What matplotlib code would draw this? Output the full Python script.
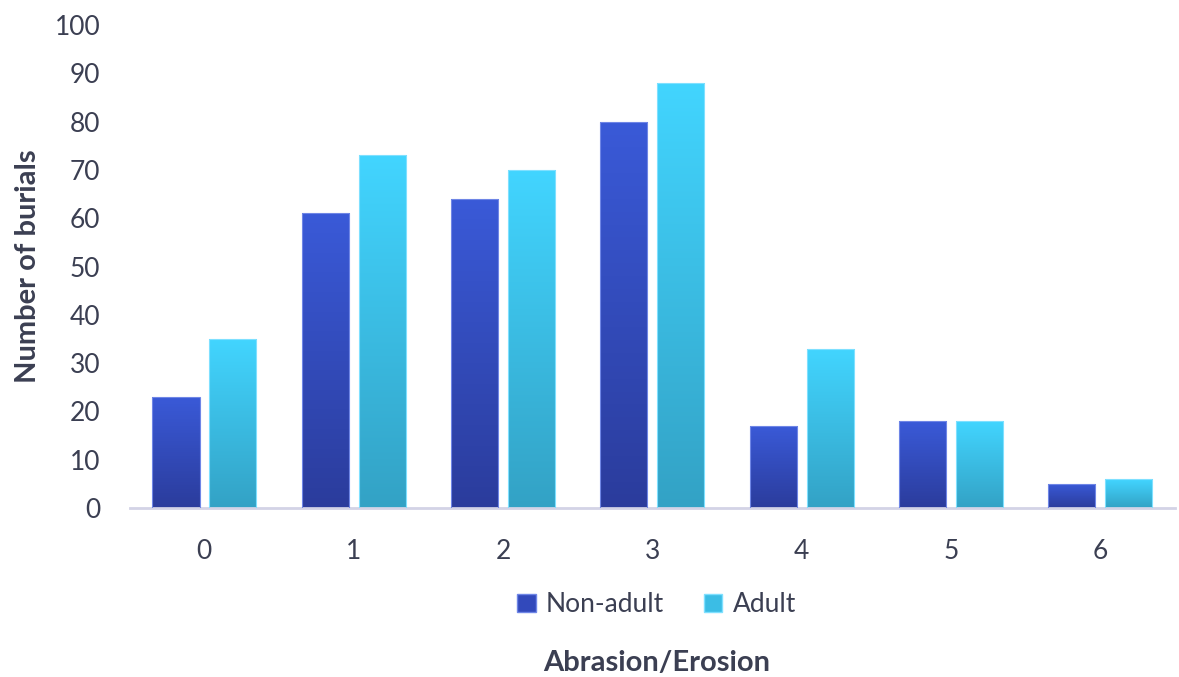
import matplotlib
matplotlib.use("Agg")
import matplotlib.pyplot as plt
import numpy as np
from matplotlib.colors import LinearSegmentedColormap
from matplotlib.patches import Patch

categories = ["0", "1", "2", "3", "4", "5", "6"]
non_adult = [23, 61, 64, 80, 17, 18, 5]
adult = [35, 73, 70, 88, 33, 18, 6]
series_names = ["Non-adult", "Adult"]
yticks = [0, 10, 20, 30, 40, 50, 60, 70, 80, 90, 100]

plt.rcParams['font.family'] = ['Lato', 'DejaVu Sans']
text_col = "#3b3f52"

fig = plt.figure(figsize=(11.79, 6.77), dpi=100)
ax = fig.add_axes([0.110, 0.2496, 0.8866, 0.7134])

x = np.arange(len(categories))
w = 0.315
off = 0.19

na_cmap = LinearSegmentedColormap.from_list("na", ["#2b3c9c", "#3a5ad8"])
ad_cmap = LinearSegmentedColormap.from_list("ad", ["#33a2c5", "#42d5ff"])

def grad_bars(xpos, vals, cmap, edge):
    bars = ax.bar(xpos, vals, width=w, color="none", edgecolor=edge, linewidth=0.8, zorder=3)
    grad = np.linspace(0, 1, 256).reshape(-1, 1)
    for b in bars:
        x0, y0 = b.get_x(), b.get_y()
        bw, bh = b.get_width(), b.get_height()
        im = ax.imshow(grad, cmap=cmap, origin="lower", aspect="auto",
                       extent=[x0, x0 + bw, y0, y0 + bh], zorder=2)
        im.set_clip_path(b)
    return bars

grad_bars(x - off, non_adult, na_cmap, "#6f86e6")
grad_bars(x + off, adult, ad_cmap, "#7fe0ff")

ax.set_xlim(-0.5, 6.5)
ax.set_ylim(0, 100)
ax.set_yticks(yticks)
ax.set_xticks(x)
ax.set_xticklabels(categories)
for s in ["top", "right", "left"]:
    ax.spines[s].set_visible(False)
ax.spines["bottom"].set_color("#d3d3e6")
ax.spines["bottom"].set_linewidth(2)
ax.tick_params(axis="both", length=0, labelsize=19, colors=text_col)
ax.tick_params(axis="x", pad=22)
ax.tick_params(axis="y", pad=21)

ax.set_ylabel("Number of burials", fontsize=21, fontweight="bold", color=text_col, labelpad=10)
fig.text(0.557, 0.0207, "Abrasion/Erosion", ha="center", va="center", fontsize=21,
         fontweight="bold", color=text_col)

handles = [Patch(facecolor="#3249bb", edgecolor="#6f86e6"),
           Patch(facecolor="#3bbde5", edgecolor="#7fe0ff")]
fig.legend(handles, series_names, loc="center", bbox_to_anchor=(0.557, 0.107), ncol=2,
           frameon=False, fontsize=19, labelcolor=text_col, handlelength=0.7, handleheight=0.7,
           handletextpad=0.4, columnspacing=1.5)

fig.savefig("out.png", dpi=100)
